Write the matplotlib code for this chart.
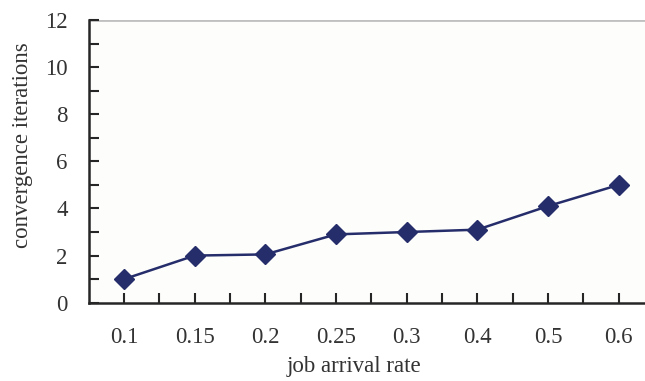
import matplotlib.pyplot as plt
import numpy as np

rates = ["0.1", "0.15", "0.2", "0.25", "0.3", "0.4", "0.5", "0.6"]
iterations = [1.0, 2.0, 2.05, 2.9, 3.0, 3.1, 4.1, 5.0]

plt.rcParams["font.family"] = ["Liberation Serif", "DejaVu Serif"]

fig = plt.figure(figsize=(6.45, 3.81), dpi=100)
ax = fig.add_axes([88.7 / 645, 1 - 302.7 / 381, (654 - 88.7) / 645, (302.7 - 20) / 381])
ax.set_facecolor("#fdfdfb")

x = np.arange(len(rates))
ax.plot(x, iterations, color="#262d6b", linewidth=1.8, marker="D",
        markersize=10, markerfacecolor="#262d6b", markeredgecolor="#262d6b",
        clip_on=False, zorder=3)

ax.set_xlim(-0.5, len(rates) - 0.5)
ax.set_ylim(0, 12)
ax.set_yticks(range(0, 13, 2))
ax.set_yticks(range(1, 12, 2), minor=True)
ax.set_xticks(x)
ax.set_xticklabels(rates)
ax.set_xticks(x + 0.5, minor=True)

ax.axhline(12, color="#c0c0c0", linewidth=2, zorder=1)

for side in ["top", "right"]:
    ax.spines[side].set_visible(False)
for side in ["left", "bottom"]:
    ax.spines[side].set_color("#262626")
    ax.spines[side].set_linewidth(1.8)

ax.tick_params(axis="both", which="both", direction="in", length=7,
               width=1.5, color="#262626", labelsize=16.5, labelcolor="#333333")
ax.tick_params(axis="x", which="major", pad=17.5)
ax.tick_params(axis="y", which="major", pad=15)

ax.set_xlabel("job arrival rate", fontsize=16.5, color="#333333", labelpad=6)
ax.set_ylabel("convergence iterations", fontsize=16.5, color="#333333", labelpad=9)
# the visible part of the chart is narrower than the axes, labels sit off-centre
ax.xaxis.label.set_x(0.47)
ax.yaxis.label.set_y(0.558)

fig.savefig("out.png", dpi=100)
